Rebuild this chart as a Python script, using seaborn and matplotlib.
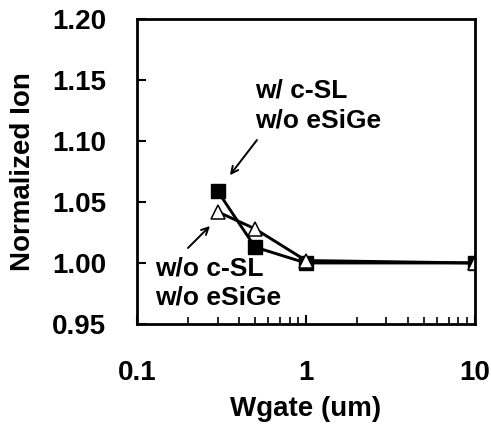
import numpy as np
import pandas as pd
import matplotlib
matplotlib.use("Agg")
import matplotlib.pyplot as plt
import seaborn as sns
from matplotlib.ticker import LogLocator, NullFormatter

# Data
wgate = [0.3, 0.5, 1, 10]
ion_csl = [1.059, 1.013, 1.000, 1.000]      # w/ c-SL w/o eSiGe (filled squares)
ion_no_csl = [1.042, 1.028, 1.002, 1.000]   # w/o c-SL w/o eSiGe (open triangles)
yticks = [0.95, 1.00, 1.05, 1.10, 1.15, 1.20]
xticks = [0.1, 1, 10]

sns.set_style("white")
plt.rcParams['font.family'] = ['Liberation Sans', 'DejaVu Sans']
plt.rcParams['font.weight'] = 'bold'
plt.rcParams['text.color'] = 'black'
plt.rcParams['axes.labelcolor'] = 'black'

fig = plt.figure(figsize=(4.91, 4.24), dpi=100)
ax = fig.add_axes([0.279, 0.236, 0.688, 0.719])

sns.lineplot(x=wgate, y=ion_csl, ax=ax, color='black', linewidth=2.1,
             marker='s', markersize=9.5, markerfacecolor='black',
             markeredgecolor='black', markeredgewidth=1)
sns.lineplot(x=wgate, y=ion_no_csl, ax=ax, color='black', linewidth=2.1,
             marker='^', markersize=10.5, markerfacecolor='white',
             markeredgecolor='black', markeredgewidth=1.1)

ax.set_xscale('log')
ax.set_xlim(0.1, 10)
ax.set_ylim(0.95, 1.20)
ax.set_yticks(yticks)
ax.set_yticklabels([f"{v:.2f}" for v in yticks])
ax.set_xticks(xticks)
ax.set_xticklabels(["0.1", "1", "10"])
ax.xaxis.set_minor_locator(LogLocator(base=10, subs=np.arange(2, 10)))
ax.xaxis.set_minor_formatter(NullFormatter())

for s in ax.spines.values():
    s.set_color('black')
    s.set_linewidth(2)

ax.tick_params(axis='both', which='major', direction='in', length=6.5, width=1.5,
               labelsize=20, colors='black')
ax.tick_params(axis='y', which='major', pad=22)
ax.tick_params(axis='x', which='major', pad=26)
ax.tick_params(axis='x', which='minor', direction='in', length=5, width=1.2,
               bottom=True, colors='black')
ax.tick_params(left=True, bottom=True, top=False, right=False)

ax.set_xlabel("Wgate (um)", fontsize=20, fontweight='bold', labelpad=7)
ax.set_ylabel("Normalized Ion", fontsize=20, fontweight='bold', labelpad=12)

ax.text(0.499, 1.129, "w/ c-SL\nw/o eSiGe", fontsize=19, fontweight='bold',
        ha='left', va='center', linespacing=1.35, color='black')
ax.annotate("", xy=(0.355, 1.072), xytext=(0.513, 1.1008),
            arrowprops=dict(arrowstyle='->,head_length=0.5,head_width=0.25',
                            color='black', lw=1.4, shrinkA=0, shrinkB=0))

ax.text(0.128, 0.9836, "w/o c-SL\nw/o eSiGe", fontsize=19, fontweight='bold',
        ha='left', va='center', linespacing=1.25, color='black')
ax.annotate("", xy=(0.2704, 1.0303), xytext=(0.2004, 1.0123),
            arrowprops=dict(arrowstyle='->,head_length=0.5,head_width=0.25',
                            color='black', lw=1.4, shrinkA=0, shrinkB=0))

fig.savefig("out.png", dpi=100)
